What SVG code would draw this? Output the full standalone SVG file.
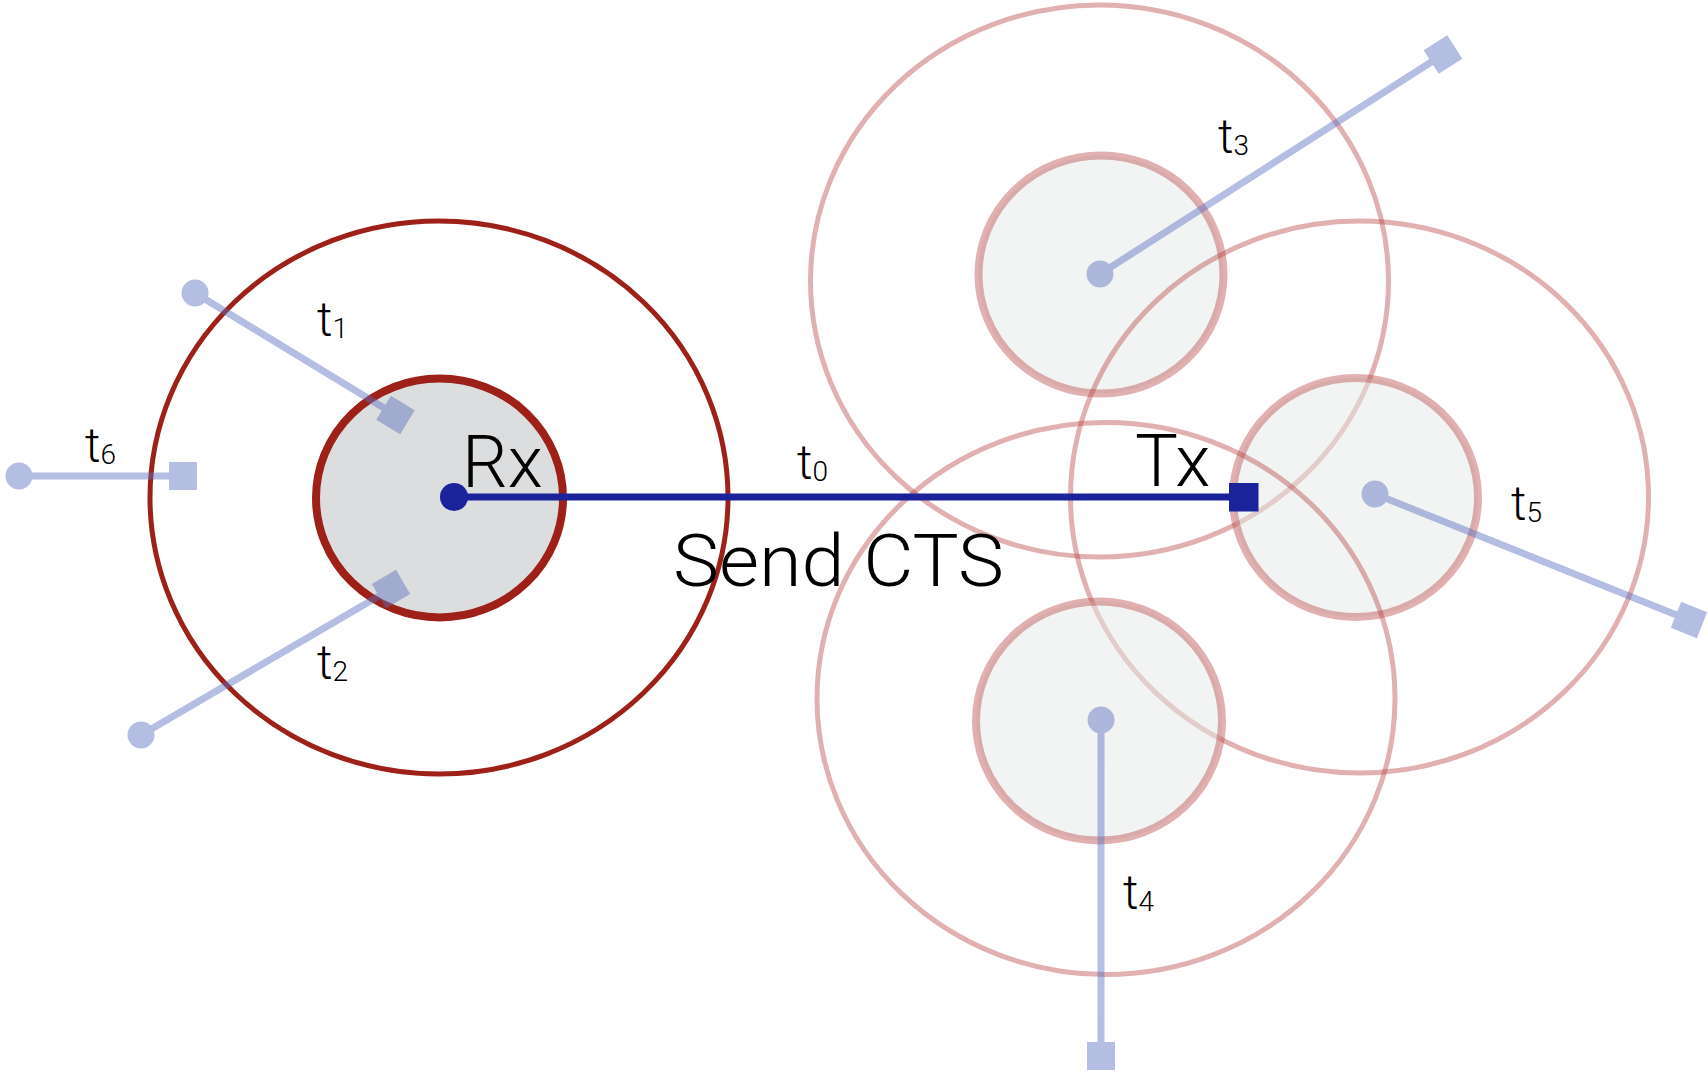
<svg xmlns="http://www.w3.org/2000/svg" width="1708" height="1073" viewBox="0 0 1708 1073">
<style>
.bg{fill:#ffffff}
.rxo{fill:none;stroke:#9e2119;stroke-width:5}
.rxi{fill:#dcdddf;stroke:#9e2119;stroke-width:8}
.no{fill:none;stroke:#b43c3c;stroke-opacity:0.4;stroke-width:5}
.ni{fill:#e3e9e6;fill-opacity:0.5;stroke:#b43c3c;stroke-opacity:0.4;stroke-width:8}
.tg{opacity:0.45}
.tl{stroke:#5a6fc0;stroke-width:7;fill:none}
.td{fill:#5a6fc0}
.main{fill:#1a239a}
.lbl{font-family:Roboto,"Liberation Sans",sans-serif;font-weight:300;fill:#000}
.big{font-size:72px}
.t{font-size:48px}
.sub{font-size:28px}
</style>
<rect class="bg" x="0" y="0" width="1708" height="1073"/>
<g id="node-rx">
<ellipse class="rxo" cx="439" cy="497.5" rx="289" ry="276.5"/>
<ellipse class="rxi" cx="439.5" cy="498" rx="123.5" ry="119.5"/>
</g>
<g id="node-top">
<ellipse class="no" cx="1099.5" cy="281" rx="289" ry="276"/>
<ellipse class="ni" cx="1101" cy="274.5" rx="122.5" ry="119"/>
</g>
<g id="node-right">
<ellipse class="no" cx="1359.5" cy="497" rx="289" ry="276"/>
<ellipse class="ni" cx="1355.5" cy="497.5" rx="122.5" ry="119.5"/>
</g>
<g id="node-bottom">
<ellipse class="no" cx="1106" cy="698.5" rx="289" ry="276"/>
<ellipse class="ni" cx="1099" cy="721" rx="123" ry="119.5"/>
</g>
<g id="connectors">
<g id="t1" class="tg">
<line class="tl" x1="195" y1="293" x2="395.5" y2="415"/>
<circle class="td" cx="195" cy="293" r="13.5"/>
<rect class="td" x="-14" y="-14" width="28" height="28" transform="translate(395.5 415) rotate(31.4)"/>
</g>
<g id="t2" class="tg">
<line class="tl" x1="141" y1="735" x2="391" y2="589"/>
<circle class="td" cx="141" cy="735" r="13.5"/>
<rect class="td" x="-14" y="-14" width="28" height="28" transform="translate(391 589) rotate(-30.3)"/>
</g>
<g id="t6" class="tg">
<line class="tl" x1="19" y1="476" x2="183" y2="476"/>
<circle class="td" cx="19" cy="476" r="13.5"/>
<rect class="td" x="169" y="462" width="28" height="28"/>
</g>
<g id="t3" class="tg">
<line class="tl" x1="1100" y1="274" x2="1443" y2="54.5"/>
<circle class="td" cx="1100" cy="274" r="13.5"/>
<rect class="td" x="-14" y="-14" width="28" height="28" transform="translate(1443 54.5) rotate(-32.6)"/>
</g>
<g id="t5" class="tg">
<line class="tl" x1="1375" y1="494" x2="1689" y2="620"/>
<circle class="td" cx="1375" cy="494" r="13.5"/>
<rect class="td" x="-14" y="-14" width="28" height="28" transform="translate(1689 620) rotate(21.8)"/>
</g>
<g id="t4" class="tg">
<line class="tl" x1="1101" y1="720" x2="1101" y2="1056"/>
<circle class="td" cx="1101" cy="720" r="13.5"/>
<rect class="td" x="1087" y="1042" width="28" height="28"/>
</g>
<g id="t0">
<line x1="454" y1="497" x2="1235" y2="497" stroke="#1a239a" stroke-width="7"/>
<circle class="main" cx="454" cy="497" r="14"/>
<rect class="main" x="1229" y="483" width="29.5" height="28.5"/>
</g>
</g>
<g id="labels">
<text class="lbl big" x="462" y="487">Rx</text>
<text class="lbl big" x="1135" y="486">Tx</text>
<text class="lbl big" x="673" y="586" textLength="331" lengthAdjust="spacingAndGlyphs">Send CTS</text>
<text class="lbl t" x="317" y="336">t<tspan class="sub" dy="2">1</tspan></text>
<text class="lbl t" x="85" y="462">t<tspan class="sub" dy="2">6</tspan></text>
<text class="lbl t" x="317" y="679">t<tspan class="sub" dy="2">2</tspan></text>
<text class="lbl t" x="797" y="479">t<tspan class="sub" dy="2">0</tspan></text>
<text class="lbl t" x="1218" y="153">t<tspan class="sub" dy="2">3</tspan></text>
<text class="lbl t" x="1511" y="520">t<tspan class="sub" dy="2">5</tspan></text>
<text class="lbl t" x="1123" y="909">t<tspan class="sub" dy="2">4</tspan></text>
</g>
</svg>
